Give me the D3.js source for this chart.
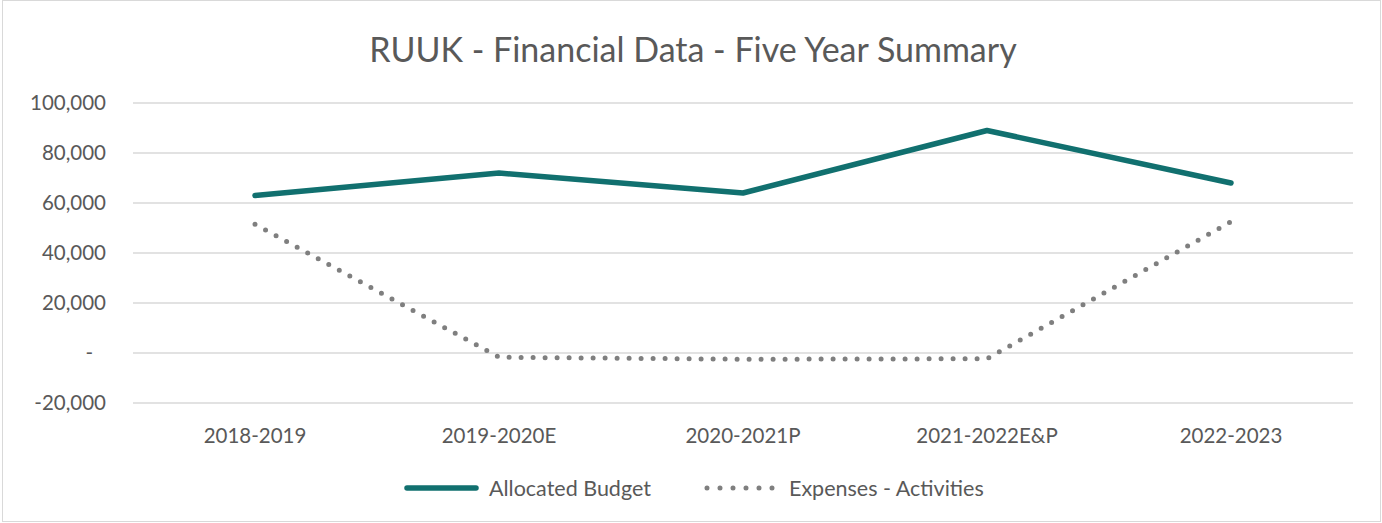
<!DOCTYPE html>
<html>
<head>
<meta charset="utf-8">
<script src="https://cdn.jsdelivr.net/npm/d3@7"></script>
<style>
  body { margin: 0; background: #fff; }
  svg { display: block; font-family: Lato, "Open Sans", sans-serif; }
</style>
</head>
<body>
<div id="chart"></div>
<script>
const categories = ["2018-2019", "2019-2020E", "2020-2021P", "2021-2022E&P", "2022-2023"];
const allocatedBudget = [63000, 72000, 64000, 89000, 68000];
const expensesActivities = [51500, -1700, -2500, -2300, 52500];
const yTicks = [-20000, 0, 20000, 40000, 60000, 80000, 100000];

const width = 1382, height = 523;
const margin = {top: 103, right: 29, bottom: 120, left: 133};

const svg = d3.select("#chart").append("svg")
    .attr("width", width)
    .attr("height", height);

svg.append("rect")
    .attr("x", 2.5).attr("y", 0.5)
    .attr("width", width - 4).attr("height", height - 2)
    .attr("fill", "#fff")
    .attr("stroke", "#d9d9d9");

const x = d3.scaleBand()
    .domain(categories)
    .range([margin.left, width - margin.right]);

const y = d3.scaleLinear()
    .domain([-20000, 100000])
    .range([height - margin.bottom, margin.top]);

// title
svg.append("text")
    .attr("x", 693).attr("y", 62)
    .attr("text-anchor", "middle")
    .attr("font-size", 34)
    .attr("fill", "#595959")
    .text("RUUK - Financial Data - Five Year Summary");

// gridlines
svg.append("g")
    .selectAll("line")
    .data(yTicks)
    .join("line")
    .attr("x1", margin.left).attr("x2", width - margin.right)
    .attr("y1", d => y(d)).attr("y2", d => y(d))
    .attr("stroke", "#d9d9d9")
    .attr("stroke-width", 1.3);

// y axis labels
const fmt = d => d === 0 ? "-" : d3.format(",")(d).replace("\u2212", "-");
svg.append("g")
    .selectAll("text")
    .data(yTicks)
    .join("text")
    .attr("x", d => d === 0 ? 93 : 106)
    .attr("y", d => y(d))
    .attr("dy", "0.35em")
    .attr("text-anchor", "end")
    .attr("font-size", 20.5)
    .attr("fill", "#595959")
    .text(fmt);

// x axis labels
svg.append("g")
    .selectAll("text")
    .data(categories)
    .join("text")
    .attr("x", d => x(d) + x.bandwidth() / 2)
    .attr("y", 443)
    .attr("text-anchor", "middle")
    .attr("font-size", 20.5)
    .attr("fill", "#595959")
    .text(d => d);

const line = d3.line()
    .x((d, i) => x(categories[i]) + x.bandwidth() / 2)
    .y(d => y(d));

svg.append("path")
    .datum(expensesActivities)
    .attr("d", line)
    .attr("fill", "none")
    .attr("stroke", "#7f7f7f")
    .attr("stroke-width", 5)
    .attr("stroke-linecap", "round")
    .attr("stroke-dasharray", "0 12");

svg.append("path")
    .datum(allocatedBudget)
    .attr("d", line)
    .attr("fill", "none")
    .attr("stroke", "#11706f")
    .attr("stroke-width", 5.5)
    .attr("stroke-linecap", "round")
    .attr("stroke-linejoin", "round");

// legend
const legend = svg.append("g");
legend.append("line")
    .attr("x1", 407).attr("x2", 476).attr("y1", 488).attr("y2", 488)
    .attr("stroke", "#11706f").attr("stroke-width", 5.5)
    .attr("stroke-linecap", "round");
legend.append("text")
    .attr("x", 489).attr("y", 488).attr("dy", "0.35em")
    .attr("font-size", 21.5).attr("fill", "#595959")
    .text("Allocated Budget");
legend.append("line")
    .attr("x1", 707).attr("x2", 773.5).attr("y1", 488).attr("y2", 488)
    .attr("stroke", "#7f7f7f").attr("stroke-width", 5)
    .attr("stroke-linecap", "round")
    .attr("stroke-dasharray", "0 13");
legend.append("text")
    .attr("x", 789).attr("y", 488).attr("dy", "0.35em")
    .attr("font-size", 21.5).attr("fill", "#595959")
    .text("Expenses - Activities");
</script>
</body>
</html>
